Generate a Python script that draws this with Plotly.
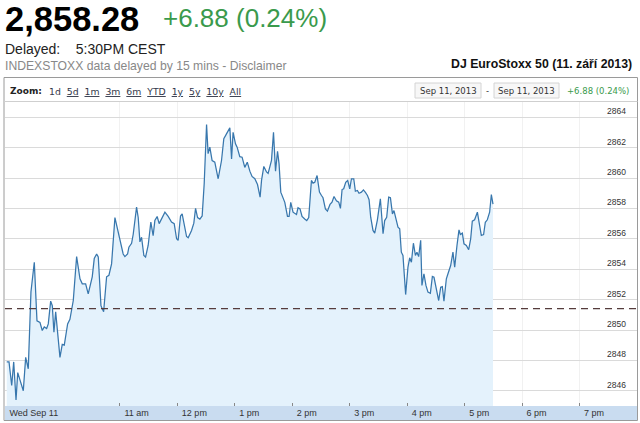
import pandas as pd
import plotly.graph_objects as go

# ---- data ----
minutes_after_open = [
    1.8, 4.2, 7.0, 9.1, 11.5, 13.3, 15.7, 19.1, 21.6, 24.3,
    27.1, 30.6, 33.4, 36.5, 38.9, 41.0, 43.5, 45.2, 47.7, 49.4,
    51.1, 52.9, 57.4, 59.8, 61.9, 65.4, 67.8, 71.3, 74.8, 78.3,
    80.7, 84.2, 86.9, 91.1, 93.2, 95.7, 97.4, 100.2, 103.0, 106.1,
    108.5, 111.3, 114.8, 120.0, 123.4, 125.2, 128.0, 129.4, 132.2, 133.9,
    137.4, 139.1, 140.9, 142.6, 145.0, 146.8, 149.5, 152.3, 154.7, 156.5,
    158.9, 161.0, 164.1, 167.0, 170.4, 173.9, 176.7, 179.2, 180.8, 183.3,
    185.0, 187.1, 189.6, 191.3, 194.8, 197.2, 199.0, 201.1, 203.5, 205.9,
    208.0, 210.5, 212.1, 213.9, 216.3, 219.1, 222.6, 226.1, 228.5, 231.3,
    234.8, 236.6, 238.2, 240.7, 242.4, 245.2, 247.6, 250.4, 253.0, 255.7,
    258.0, 260.9, 263.7, 266.4, 267.9, 270.3, 273.1, 274.8, 278.3, 280.4,
    282.5, 284.6, 286.2, 288.0, 289.8, 292.2, 295.0, 296.7, 298.4, 300.8,
    304.4, 306.0, 308.1, 310.2, 313.0, 315.1, 317.2, 320.0, 321.7, 323.5,
    325.9, 328.4, 330.5, 332.1, 334.6, 336.7, 339.4, 341.5, 343.6, 346.1,
    348.5, 350.3, 352.0, 353.7, 355.8, 357.9, 360.0, 361.8, 364.2, 365.9,
    368.0, 369.7, 372.2, 374.3, 376.4, 378.5, 380.2, 381.9, 384.3, 386.1,
    388.9, 392.0, 394.8, 396.5, 398.6, 400.7, 402.5, 404.6, 406.2, 408.7,
    410.4, 412.2, 413.9, 415.6, 418.4, 420.8, 422.6, 424.4, 426.5, 428.6,
    430.2, 432.0, 434.1, 435.4, 437.5, 439.6, 441.7, 444.2, 446.3, 448.0,
    450.5, 452.9, 455.0, 456.7, 458.4, 460.9, 462.6, 465.4, 467.8, 469.6,
    472.0, 474.1, 475.5, 477.6, 479.3, 481.8, 484.2, 486.3, 488.0, 490.4,
    493.3, 495.7, 497.4, 499.8, 501.6, 503.7, 506.1, 507.9, 509.6,
]
index_values = [
    2847.9, 2847.9, 2846.35, 2847.9, 2845.4, 2847.2, 2846.7, 2846.0, 2848.2, 2847.45,
    2852.5, 2854.46, 2850.6, 2850.5, 2849.97, 2850.2, 2850.1, 2850.4, 2851.9, 2851.6,
    2849.85, 2851.2, 2848.2, 2849.05, 2849.0, 2850.4, 2850.7, 2851.94, 2854.83, 2853.37,
    2853.04, 2853.04, 2852.38, 2853.5, 2854.7, 2855.0, 2854.8, 2851.6, 2851.2, 2853.5,
    2853.6, 2854.35, 2857.4, 2855.8, 2855.0, 2854.83, 2855.0, 2855.45, 2855.7, 2856.3,
    2858.08, 2857.4, 2855.8, 2856.1, 2854.9, 2854.8, 2855.56, 2857.1, 2856.2, 2857.2,
    2857.47, 2857.0, 2857.4, 2857.75, 2857.47, 2857.1, 2857.0, 2856.0, 2855.9, 2857.5,
    2857.64, 2856.9, 2856.15, 2856.07, 2856.55, 2857.03, 2858.0, 2857.4, 2857.3, 2857.5,
    2859.6, 2863.52, 2861.6, 2862.03, 2861.15, 2861.04, 2859.95, 2861.15, 2862.58, 2862.9,
    2863.3, 2861.26, 2863.0, 2862.25, 2862.03, 2861.4, 2861.37, 2860.7, 2861.04, 2860.45,
    2860.1, 2859.95, 2859.57, 2858.74, 2859.84, 2860.76, 2860.4, 2860.3, 2861.15, 2863.0,
    2860.45, 2861.76, 2860.93, 2859.07, 2858.8, 2858.4, 2857.47, 2857.47, 2858.4, 2857.75,
    2857.6, 2858.04, 2857.97, 2857.47, 2857.3, 2857.2, 2857.4, 2859.84, 2859.66, 2859.72,
    2860.16, 2859.07, 2858.85, 2858.7, 2857.97, 2857.82, 2858.26, 2858.41, 2858.78, 2858.5,
    2858.41, 2858.0, 2859.24, 2859.29, 2859.72, 2859.84, 2859.29, 2859.95, 2859.95, 2859.13,
    2859.18, 2859.0, 2859.07, 2859.22, 2859.05, 2858.85, 2858.57, 2857.42, 2856.55, 2856.37,
    2857.25, 2858.63, 2856.33, 2857.2, 2857.42, 2858.74, 2858.7, 2857.64, 2857.86, 2857.3,
    2856.76, 2856.66, 2855.12, 2854.9, 2852.33, 2854.13, 2854.75, 2854.46, 2855.71, 2854.9,
    2855.12, 2854.83, 2855.9, 2852.93, 2853.7, 2852.93, 2852.49, 2852.42, 2853.52, 2853.47,
    2852.55, 2851.94, 2852.82, 2852.86, 2851.9, 2853.37, 2853.7, 2854.24, 2855.12, 2854.13,
    2855.56, 2856.59, 2856.28, 2856.37, 2855.67, 2855.56, 2855.28, 2856.0, 2857.16, 2857.25,
    2857.75, 2856.76, 2856.22, 2856.28, 2857.09, 2857.25, 2857.75, 2858.91, 2858.28,
]
previous_close = 2851.40
tick_times = ["09:00", "11:00", "12:00", "13:00", "14:00", "15:00", "16:00", "17:00", "18:00", "19:00"]
tick_labels = ["Wed Sep 11", "11 am", "12 pm", "1 pm", "2 pm", "3 pm", "4 pm", "5 pm", "6 pm", "7 pm"]
y_ticks = [2846, 2848, 2850, 2852, 2854, 2856, 2858, 2860, 2862, 2864]
zoom_links = ["1d", "5d", "1m", "3m", "6m", "YTD", "1y", "5y", "10y", "All"]

day = "2013-09-11"
open_time = pd.Timestamp(day + " 09:00")
times = open_time + pd.to_timedelta(minutes_after_open, unit="min")

W, H = 640, 423
L, R, T, B = 5, 3, 102, 17
PW, PH = W - L - R, H - T - B


def px(x):
    return (x - L) / PW


def py(y):
    return (H - B - y) / PH


fig = go.Figure()
fig.add_trace(go.Scatter(
    x=times, y=index_values, mode="lines",
    line=dict(color="#3877ad", width=1.25),
    fill="tozeroy", fillcolor="#e4f2fc",
    hoverinfo="skip", showlegend=False,
))

GREEN = "#3a9a4c"
SANS = "Liberation Sans, Arial, sans-serif"
VERD = "DejaVu Sans, Verdana, sans-serif"

ann = []
ann.append(dict(text="<b>2,858.28</b>", x=px(3), y=py(19), xanchor="left", yanchor="middle",
                font=dict(family=SANS, size=34.5, color="#000")))
ann.append(dict(text="+6.88 (0.24%)", x=px(161), y=py(18.5), xanchor="left", yanchor="middle",
                font=dict(family=SANS, size=26, color=GREEN)))
ann.append(dict(text="Delayed:\u00a0\u00a0\u00a0 5:30PM CEST", x=px(3), y=py(49), xanchor="left", yanchor="middle",
                font=dict(family=SANS, size=14, color="#222")))
ann.append(dict(text="INDEXSTOXX data delayed by 15 mins - Disclaimer", x=px(3), y=py(66), xanchor="left",
                yanchor="middle", font=dict(family=SANS, size=12.2, color="#888")))
ann.append(dict(text="<b>DJ EuroStoxx 50 (11. září 2013)</b>", x=px(634), y=py(64), xanchor="right",
                yanchor="middle", font=dict(family=SANS, size=12.3, color="#111")))
ann.append(dict(text="<b>Zoom:</b>", x=px(8), y=py(91), xanchor="left", yanchor="middle",
                font=dict(family=VERD, size=9, color="#222")))
parts = []
for i, z in enumerate(zoom_links):
    if i == 0:
        parts.append(z)
    else:
        parts.append("<span style='text-decoration:underline'>" + z + "</span>")
ann.append(dict(text="\u00a0\u00a0".join(parts), x=px(47), y=py(91), xanchor="left", yanchor="middle",
                font=dict(family=VERD, size=9.3, color="#33384a")))
ann.append(dict(text="Sep 11, 2013", x=px(448), y=py(90.5), xanchor="center", yanchor="middle",
                font=dict(family=VERD, size=8.5, color="#333")))
ann.append(dict(text="-", x=px(487), y=py(90.5), xanchor="center", yanchor="middle",
                font=dict(family=VERD, size=8.5, color="#333")))
ann.append(dict(text="Sep 11, 2013", x=px(526.5), y=py(90.5), xanchor="center", yanchor="middle",
                font=dict(family=VERD, size=8.5, color="#333")))
ann.append(dict(text="+6.88 (0.24%)", x=px(598), y=py(90.5), xanchor="center", yanchor="middle",
                font=dict(family=VERD, size=8.5, color=GREEN)))
for a in ann:
    a.update(xref="paper", yref="paper", showarrow=False)

shapes = [
    # x-axis band
    dict(type="rect", xref="paper", yref="paper", x0=0, x1=1, y0=py(420), y1=py(406),
         fillcolor="#c9dcf0", line=dict(width=0), layer="below"),
    # outer frame
    dict(type="rect", xref="paper", yref="paper", x0=px(4), x1=px(637.5), y0=py(420.5), y1=py(77.5),
         line=dict(color="#9a9a9a", width=1), fillcolor="rgba(0,0,0,0)", layer="above"),
    # separator under zoom bar
    dict(type="line", xref="paper", yref="paper", x0=px(4), x1=px(637.5), y0=py(101.5), y1=py(101.5),
         line=dict(color="#cfcfcf", width=1)),
    # date boxes
    dict(type="rect", xref="paper", yref="paper", x0=px(415), x1=px(481), y0=py(98), y1=py(83),
         fillcolor="#f7f7f7", line=dict(color="#d4d4d4", width=1)),
    dict(type="rect", xref="paper", yref="paper", x0=px(494), x1=px(559), y0=py(98), y1=py(83),
         fillcolor="#f7f7f7", line=dict(color="#d4d4d4", width=1)),
    # previous close
    dict(type="line", xref="paper", yref="y", x0=0, x1=1, y0=previous_close, y1=previous_close,
         line=dict(color="#553c3c", width=1.2, dash="7px,5px"), layer="above"),
]

fig.update_layout(
    width=W, height=H,
    margin=dict(l=L, r=R, t=T, b=B, pad=0),
    paper_bgcolor="#ffffff", plot_bgcolor="#ffffff",
    showlegend=False,
    annotations=ann, shapes=shapes,
    xaxis=dict(
        range=[pd.Timestamp(day + " 09:00"), pd.Timestamp(day + " 20:00")],
        tickvals=[pd.Timestamp(day + " " + t) for t in tick_times],
        ticktext=tick_labels,
        ticks="inside", ticklen=3, tickcolor="#888", tickwidth=1,
        ticklabelposition="outside right", ticklabelshift=4,
        tickfont=dict(family=SANS, size=9, color="#333"),
        showgrid=True, gridcolor="#f1f1f1", gridwidth=1,
        zeroline=False, showline=False, fixedrange=True,
    ),
    yaxis=dict(
        range=[2845, 2865], side="right",
        tickvals=y_ticks, ticktext=[str(v) for v in y_ticks],
        ticks="", ticklabelposition="inside top", ticklabelstandoff=8,
        tickfont=dict(family=SANS, size=8.5, color="#333"),
        showgrid=True, gridcolor="#dadada", gridwidth=1,
        zeroline=False, showline=False, fixedrange=True,
    ),
)

fig.write_html(
    "out.html",
    config={"displayModeBar": False},
    post_script="document.body.style.margin='0';document.body.style.overflow='hidden';",
)
